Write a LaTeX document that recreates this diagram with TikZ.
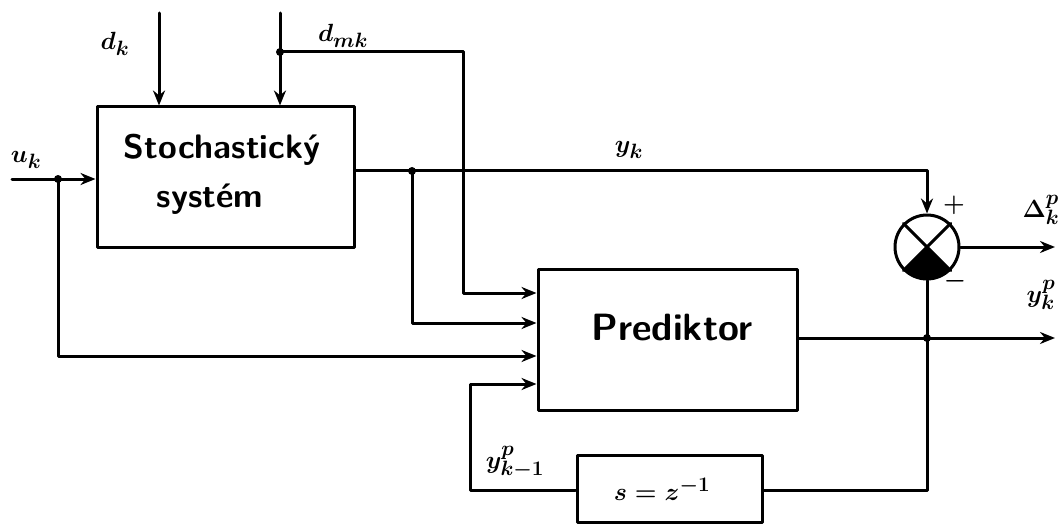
\documentclass[tikz,border=0pt]{standalone}
\usepackage{fontspec}
\usetikzlibrary{arrows.meta,calc}
\begin{document}
\begin{tikzpicture}[x=1pt,y=-1pt,
  line width=3pt, line join=round, line cap=round,
  blk/.style={draw, rectangle, inner sep=0pt},
  arr/.style={-{Stealth[length=15pt,width=12pt]}},
  txt/.style={font=\sffamily\bfseries\fontsize{34}{38}\selectfont, inner sep=0pt},
  lab/.style={font=\boldmath\fontsize{30}{34}\selectfont, inner sep=0pt},
  sgn/.style={font=\boldmath\fontsize{26}{30}\selectfont, inner sep=0pt},
  dot/.style={fill, circle, inner sep=0pt, minimum size=8pt}]
\useasboundingbox (0,0) rectangle (1063,524);

% blocks
\node[blk, minimum width=257pt, minimum height=140pt] (S) at (225.5,177) {};
\node[txt] (st1) at (222,150) {Stochastický};
\node[txt] (st2) at (210,199) {systém};
\node[blk, minimum width=259pt, minimum height=141pt] (P) at (667.5,339.5) {};
\node[txt, font=\sffamily\bfseries\fontsize{38}{42}\selectfont] (pt) at (672,328) {Prediktor};
\node[blk, minimum width=185pt, minimum height=67pt] (D) at (669.5,488.5) {};
\node[lab] (dt) at (662,489) {$s = z^{-1}$};
\node[draw, circle, minimum size=64pt, inner sep=0pt] (C) at (927,247) {};
\draw (C.north west) -- (C.south east);
\draw (C.north east) -- (C.south west);
\fill (C.center) -- ($(C.center)+(-135:32pt)$) arc[start angle=-135, end angle=-45, radius=32pt] -- cycle;

% coordinates
\coordinate (dkT) at (159,13);
\coordinate (dmT) at (280,13);
\coordinate (J1) at (280,52);
\coordinate (dmC) at (463,52);
\coordinate (dmD) at (463,293);
\coordinate (uS) at (12,179);
\coordinate (J2) at (58,179);
\coordinate (uD) at (58,356);
\coordinate (J3) at (412,171);
\coordinate (yC) at (927,171);
\coordinate (yD) at (412,323);
\coordinate (fL) at (470,490);
\coordinate (fU) at (470,384);
\coordinate (J4) at (927,338);
\coordinate (oE) at (1055,338);
\coordinate (dE) at (1055,247);

% connectors
\draw[arr] (dkT) -- (dkT |- S.north);
\draw[arr] (dmT) -- (dmT |- S.north);
\draw[arr] (J1) -- (dmC) -- (dmD) -- (dmD -| P.west);
\draw[arr] (uS) -- (uS -| S.west);
\draw[arr] (J2) -- (uD) -- (uD -| P.west);
\draw[arr] (S.east |- J3) -- (yC) -- (C.north);
\draw[arr] (J3) -- (yD) -- (yD -| P.west);
\draw[arr] (D.west |- fL) -- (fL) -- (fU) -- (fU -| P.west);
\draw[arr] (P.east |- J4) -- (oE);
\draw (C.south) -- (J4) -- (J4 |- fL) -- (D.east |- fL);
\draw[arr] (C.east) -- (dE);

% junction dots
\node[dot] (j1) at (J1) {};
\node[dot] (j2) at (J2) {};
\node[dot] (j3) at (J3) {};
\node[dot] (j4) at (J4) {};

% labels
\node[lab] (ldk) at (115,44) {$d_k$};
\node[lab] (ldm) at (343,36) {$d_{mk}$};
\node[lab] (luk) at (26,160) {$u_k$};
\node[lab] (lyk) at (629,150) {$y_k$};
\node[sgn] (lp) at (954,205) {$+$};
\node[sgn] (lm) at (955,281) {$-$};
\node[lab] (ldel) at (1041,210) {$\Delta^{p}_{k}$};
\node[lab] (lyp) at (1041,295) {$y^{p}_{k}$};
\node[lab] (lyp1) at (515,462) {$y^{p}_{k-1}$};
\end{tikzpicture}
\end{document}
